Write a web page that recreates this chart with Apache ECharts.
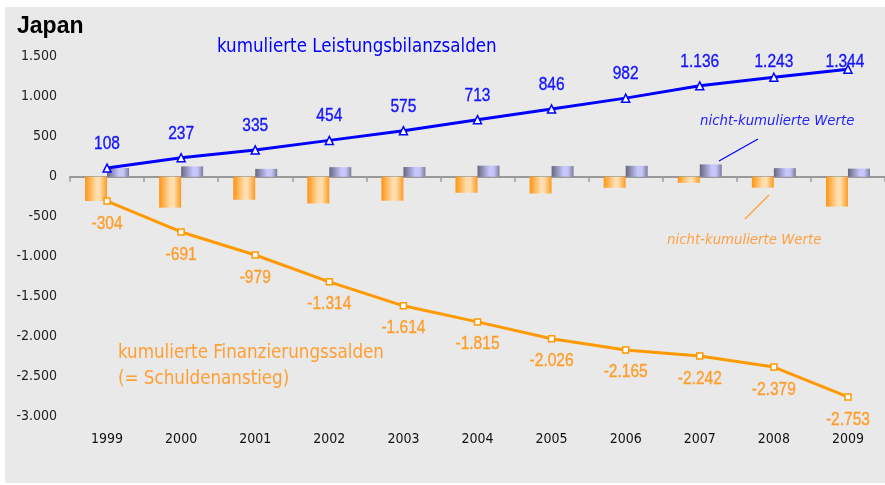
<!DOCTYPE html>
<html>
<head>
<meta charset="utf-8">
<script src="https://cdn.jsdelivr.net/npm/echarts@6/dist/echarts.min.js"></script>
<style>
html,body{margin:0;padding:0;background:#fff;}
#chart{width:885px;height:485px;}
</style>
</head>
<body>
<div id="chart"></div>
<script>
var years = ['1999','2000','2001','2002','2003','2004','2005','2006','2007','2008','2009'];
var cumCurrentAccount = [108, 237, 335, 454, 575, 713, 846, 982, 1136, 1243, 1344];
var cumFinancing = [-304, -691, -979, -1314, -1614, -1815, -2026, -2165, -2242, -2379, -2753];
var annualCurrentAccount = [108, 129, 98, 119, 121, 138, 133, 136, 154, 107, 101];
var annualFinancing = [-304, -387, -288, -335, -300, -201, -211, -139, -77, -137, -374];
var yTicks = {min: -3000, max: 1500, interval: 500};

var COND = "'DejaVu Sans Condensed','Liberation Sans',sans-serif";
var ARIAL = "'Liberation Sans',Arial,sans-serif";
function de(v){
  var s = Math.abs(v).toString().replace(/\B(?=(\d{3})+(?!\d))/g, '.');
  return (v < 0 ? '-' : '') + s;
}
var chart = echarts.init(document.getElementById('chart'), null, {renderer:'canvas'});

var blueGrad = new echarts.graphic.LinearGradient(0,0,1,0,[
  {offset:0,color:'#66667f'},{offset:0.55,color:'#c8c8ff'},{offset:0.75,color:'#c4c4f6'},{offset:1,color:'#7a7a9a'}]);
var orangeGrad = new echarts.graphic.LinearGradient(0,0,1,0,[
  {offset:0,color:'#ff9410'},{offset:0.5,color:'#ffdcaa'},{offset:0.65,color:'#ffe0b4'},{offset:1,color:'#ff9a20'}]);

// label placement (pixels relative to the point), kept apart from the data
var blueLabelDx = {10:-3};
var blueLabelDy = {9:-15, 10:-7};

function labelSeries(values, color, defaultDy, dxMap, dyMap){
  return {
    type:'custom', xAxisIndex:1, z:10, silent:true,
    data: values.map(function(v,i){return [i, v];}),
    renderItem: function(params, api){
      var i = api.value(0), v = api.value(1);
      var p = api.coord([i, v]);
      var dx = (dxMap && dxMap[i] != null) ? dxMap[i] : 0;
      var dy = (dyMap && dyMap[i] != null) ? dyMap[i] : defaultDy;
      return {type:'text', x:p[0]+dx, y:p[1]+dy, scaleX:0.84,
        style:{text:de(v), font:'18.5px '+ARIAL, fill:color, stroke:color, lineWidth:0.35,
               textAlign:'center', textVerticalAlign:'middle'}};
    }
  };
}

var option = {
  backgroundColor: 'transparent',
  animation: false,
  graphic: [
    {type:'rect', shape:{x:5,y:7,width:885,height:476}, style:{fill:'#e9e9e9'}, z:-10},
    {type:'text', style:{x:17,y:27,text:'Japan',font:'bold 23px '+ARIAL,fill:'#000',textVerticalAlign:'middle'}},
    {type:'text', style:{x:217,y:47,text:'kumulierte Leistungsbilanzsalden',font:'18.6px '+COND,fill:'#0000ff',textVerticalAlign:'middle'}},
    {type:'text', style:{x:118,y:353,text:'kumulierte Finanzierungssalden',font:'18.6px '+COND,fill:'#ff9f33',textVerticalAlign:'middle'}},
    {type:'text', style:{x:118,y:379,text:'(= Schuldenanstieg)',font:'18.6px '+COND,fill:'#ff9f33',textVerticalAlign:'middle'}},
    {type:'text', style:{x:700,y:121,text:'nicht-kumulierte Werte',font:'italic 14.8px '+COND,fill:'#2222ff',textVerticalAlign:'middle'}},
    {type:'text', style:{x:667,y:240,text:'nicht-kumulierte Werte',font:'italic 14.8px '+COND,fill:'#ffa040',textVerticalAlign:'middle'}},
    {type:'line', shape:{x1:719,y1:161,x2:758,y2:139}, style:{stroke:'#0000ff',lineWidth:1.2}},
    {type:'line', shape:{x1:769,y1:195,x2:745,y2:219}, style:{stroke:'#ff9f33',lineWidth:1.2}}
  ],
  grid: {left:70, top:56.7, width:818, height:360, containLabel:false},
  xAxis: [
    {type:'category', data: years, position:'bottom',
     axisLine:{show:false, onZero:false}, axisTick:{show:false},
     axisLabel:{margin:16, fontFamily:COND, fontSize:14, color:'#111'}},
    {type:'category', data: years, position:'bottom',
     axisLine:{show:true, onZero:true, lineStyle:{color:'#999', width:2}},
     axisTick:{show:true, length:5, lineStyle:{color:'#999', width:1.5}},
     axisLabel:{show:false}}
  ],
  yAxis: {type:'value', min:yTicks.min, max:yTicks.max, interval:yTicks.interval,
    axisLine:{show:false}, axisTick:{show:false}, splitLine:{show:false},
    axisLabel:{margin:13, fontFamily:COND, fontSize:14, color:'#222', formatter:function(v){return de(v);}}},
  series: [
    {type:'bar', xAxisIndex:1, data: annualFinancing, barWidth:22, barGap:'0%',
     itemStyle:{color:orangeGrad}, z:2},
    {type:'bar', xAxisIndex:1, data: annualCurrentAccount, barWidth:22, barGap:'0%',
     itemStyle:{color:blueGrad}, z:2},
    {type:'line', xAxisIndex:1, data: cumCurrentAccount, symbol:'triangle', symbolSize:8,
     lineStyle:{color:'#0000ff', width:3}, itemStyle:{color:'#fff', borderColor:'#0000ff', borderWidth:1.5}, z:5},
    {type:'line', xAxisIndex:1, data: cumFinancing, symbol:'rect', symbolSize:6,
     lineStyle:{color:'#ff9900', width:3}, itemStyle:{color:'#fff', borderColor:'#ff9900', borderWidth:1.5}, z:5},
    labelSeries(cumCurrentAccount, '#1414ff', -24, blueLabelDx, blueLabelDy),
    labelSeries(cumFinancing, '#ff9d2a', 22.5, null, null)
  ]
};
chart.setOption(option);
</script>
</body>
</html>
